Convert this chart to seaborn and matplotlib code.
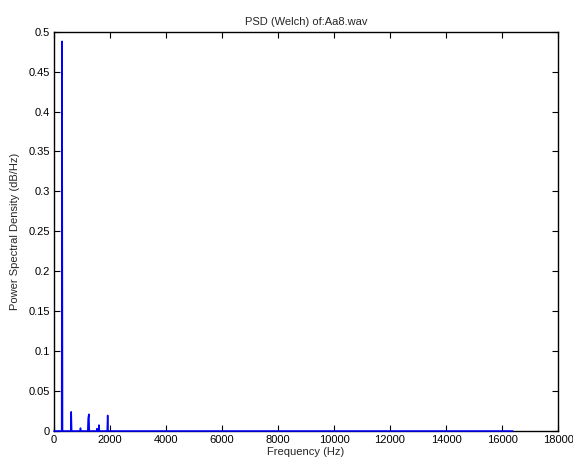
import matplotlib
matplotlib.use("Agg")
import matplotlib.pyplot as plt
import seaborn as sns
import pandas as pd

# Welch PSD of Aa8.wav: frequency bins (Hz) and power at each listed bin
freq_hz = [0, 278, 294, 310, 604, 620, 636, 934, 950, 966,
           1209, 1225, 1250, 1266, 1524, 1540, 1556, 1594, 1610, 1626,
           1904, 1920, 1936, 16384]
psd = [0, 0, 0.488, 0, 0, 0.024, 0, 0, 0.0037, 0,
       0, 0.016, 0.021, 0, 0, 0.003, 0, 0, 0.0075, 0,
       0, 0.0196, 0, 0]

x_ticks = [0, 2000, 4000, 6000, 8000, 10000, 12000, 14000, 16000, 18000]
y_ticks = [0, 0.05, 0.1, 0.15, 0.2, 0.25, 0.3, 0.35, 0.4, 0.45, 0.5]
y_tick_labels = ["0", "0.05", "0.1", "0.15", "0.2", "0.25", "0.3", "0.35", "0.4", "0.45", "0.5"]

sns.set_style("white")
plt.rcParams["font.family"] = ["Liberation Sans", "DejaVu Sans"]
plt.rcParams["font.size"] = 8

df = pd.DataFrame({"Frequency (Hz)": freq_hz, "PSD": psd})

fig = plt.figure(figsize=(5.73, 4.59), dpi=100)
ax = fig.add_axes([0.094, 0.061, 0.880, 0.870])

sns.lineplot(data=df, x="Frequency (Hz)", y="PSD", ax=ax, color="#0000ff",
             linewidth=1.1, sort=False, estimator=None, clip_on=False, zorder=3)

ax.set_xlim(0, 18000)
ax.set_ylim(0, 0.5)
ax.set_xticks(x_ticks)
ax.set_xticklabels([str(t) for t in x_ticks])
ax.set_yticks(y_ticks)
ax.set_yticklabels(y_tick_labels)

for s in ax.spines.values():
    s.set_visible(True)
    s.set_color("black")
    s.set_linewidth(1.0)

ax.tick_params(axis="x", which="both", direction="in", length=4, width=0.8,
               top=True, bottom=True, labelsize=8, pad=3, colors="black")
ax.tick_params(axis="y", which="both", direction="in", length=4, width=0.8,
               left=True, right=True, labelsize=8, pad=3, colors="black")

ax.set_title("PSD (Welch) of:Aa8.wav", fontsize=8, pad=5)
ax.set_xlabel("Frequency (Hz)", fontsize=8, labelpad=1)
ax.set_ylabel("Power Spectral Density (dB/Hz)", fontsize=8, labelpad=6)
ax.grid(False)

fig.savefig("out.png", dpi=100, facecolor="white")
